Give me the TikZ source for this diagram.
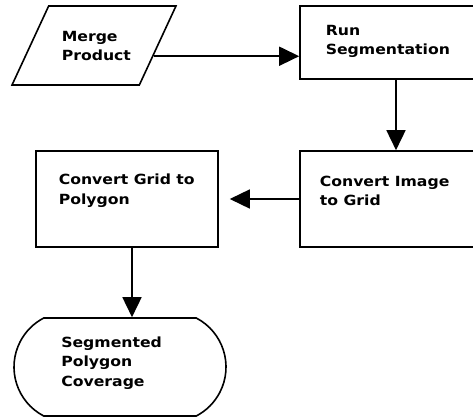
\documentclass[tikz,border=0pt]{standalone}
\usepackage{fontspec}
\setmainfont{DejaVu Sans}[FakeStretch=1.12]
\usetikzlibrary{arrows.meta, shapes.geometric, shapes.misc, positioning, calc}
\tikzset{
  block/.style={draw, rectangle, line width=1.6pt, inner sep=0pt},
  inout/.style={draw, trapezium, trapezium left angle=68, trapezium right angle=112, trapezium stretches=true, line width=1.6pt, inner sep=2pt},
  terminal/.style={draw, rounded rectangle, rounded rectangle arc length=125, line width=1.6pt, inner sep=2pt},
  blocktext/.style={anchor=base west, align=left, inner sep=0pt, font=\fontsize{14}{19.5}\selectfont\bfseries}
}

\begin{document}
\begin{tikzpicture}[x=1pt, y=-1pt, >={Triangle[length=20pt, width=19pt]}, line width=1.6pt]
\clip (0,0) rectangle (473,417);
\node[inout, minimum width=164pt, minimum height=79pt] (merge) at (94,45.5) {};
\node[block, minimum width=192pt, minimum height=73pt] (run) at (396,42.5) {};
\node[block, minimum width=192pt, minimum height=96pt] (convimg) at (396,199) {};
\node[block, minimum width=182pt, minimum height=96pt] (convgrid) at (127,199) {};
\node[terminal, minimum width=216pt, minimum height=98pt] (segpoly) at (120,367) {};
\node[blocktext] (mergetxt) at (61,61) {Merge\\Product};
\node[blocktext] (runtxt) at (325,55) {Run\\Segmentation};
\node[blocktext] (convimgtxt) at (319,205.5) {Convert Image\\to Grid};
\node[blocktext] (convgridtxt) at (58,204) {Convert Grid to\\Polygon};
\node[blocktext] (segpolytxt) at (60.5,386) {Segmented\\Polygon\\Coverage};
\coordinate (mergeout) at ($(merge.bottom right corner)!0.367!(merge.top right corner)$);
\draw[->] (mergeout) -- (mergeout -| run.west);
\draw[->] (run) -- (convimg);
\draw[->, shorten >=11pt] (convimg) -- (convgrid);
\draw[->] ([xshift=5pt]convgrid.south) -- ([xshift=5pt]convgrid.south |- segpoly.north);
\end{tikzpicture}
\end{document}
